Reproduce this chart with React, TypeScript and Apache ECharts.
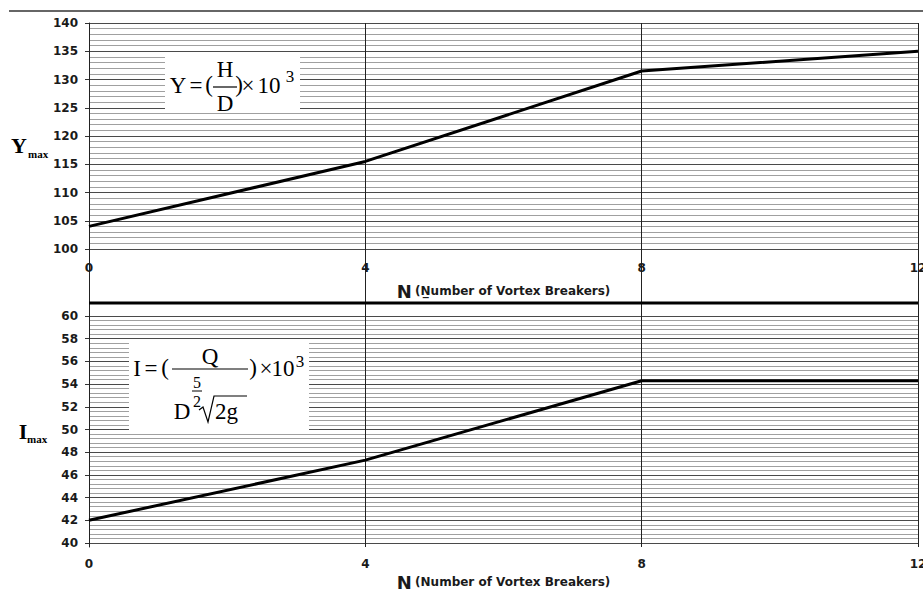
import React, { useEffect, useRef } from "react";
import * as echarts from "echarts";

// ---- data ----
const nValues = [0, 4, 8, 12];
const yMaxValues = [104, 115.5, 131.5, 135];
const iMaxValues = [42, 47.3, 54.3, 54.3];

const xMin = 0;
const xMax = 12;
const xInterval = 4;
const yTopMin = 100;
const yTopMax = 140;
const yTopInterval = 5;
const yBotMin = 40;
const yBotMax = 60;
const yBotInterval = 2;

const xTitleRich = "{n|N} {p|(}{u|N\u0332}{p|umber of Vortex Breakers)}";
const xTitlePlain = "{n|N} {p|(Number of Vortex Breakers)}";

const SERIF = "'Liberation Serif', 'Times New Roman', serif";
const SANS = "'DejaVu Sans', sans-serif";

function serifText(x: number, y: number, text: string, size: number, align = "center", weight = "normal") {
  return {
    type: "text",
    x,
    y,
    style: {
      text,
      fontFamily: SERIF,
      fontSize: size,
      fontWeight: weight,
      fill: "#000",
      align,
      verticalAlign: "middle",
    },
    z: 20,
  };
}

function hline(x1: number, x2: number, y: number, w: number, color = "#000") {
  return {
    type: "line",
    shape: { x1, y1: y, x2, y2: y },
    style: { stroke: color, lineWidth: w },
    z: 20,
  };
}

export default function App() {
  const ref = useRef<HTMLDivElement>(null);

  useEffect(() => {
    if (!ref.current) return;
    const chart = echarts.init(ref.current, null, { renderer: "svg" });

    const labelStyle = {
      fontFamily: SANS,
      fontWeight: "bold",
      fontSize: 12,
      color: "#1a1a1a",
    };
    const nameRich = {
      n: { fontFamily: SANS, fontWeight: "bold", fontSize: 18, color: "#1a1a1a" },
      p: { fontFamily: SANS, fontWeight: "bold", fontSize: 12, color: "#1a1a1a" },
      u: { fontFamily: SANS, fontWeight: "bold", fontSize: 12, color: "#1a1a1a" },
    };

    const valueY = (min: number, max: number, interval: number, gridIndex: number) => ({
      type: "value",
      gridIndex,
      min,
      max,
      interval,
      axisLine: { show: false },
      axisTick: { show: true, length: 4, lineStyle: { color: "#333" } },
      axisLabel: { ...labelStyle, margin: 11 },
      splitLine: { show: true, lineStyle: { color: "#4a4a4a", width: 1 } },
      minorTick: { show: false, splitNumber: 5 },
      minorSplitLine: { show: true, lineStyle: { color: "#a0a0a0", width: 1 } },
    });

    const valueX = (gridIndex: number, margin: number, name: string, nameGap: number) => ({
      type: "value",
      gridIndex,
      min: xMin,
      max: xMax,
      interval: xInterval,
      axisLine: { show: false },
      axisTick: { show: false },
      axisLabel: { ...labelStyle, margin, alignMaxLabel: "center", alignMinLabel: "center" },
      splitLine: { show: false },
      name,
      nameLocation: "middle",
      nameGap,
      nameTextStyle: { rich: nameRich },
    });

    const option: any = {
      animation: false,
      backgroundColor: "#fff",
      grid: [
        { left: 89, top: 23, width: 829, height: 226, outerBoundsMode: "none" },
        { left: 89, top: 316, width: 829, height: 227, outerBoundsMode: "none" },
        { left: 89, top: 23, width: 829, height: 524, outerBoundsMode: "none" },
      ],
      xAxis: [
        valueX(0, 13, xTitleRich, 33),
        valueX(1, 15, xTitlePlain, 30),
        {
          type: "value",
          gridIndex: 2,
          min: xMin,
          max: xMax,
          interval: xInterval,
          axisLine: { show: false },
          axisTick: { show: false },
          axisLabel: { show: false },
          splitLine: { show: true, lineStyle: { color: "#222", width: 1 } },
        },
      ],
      yAxis: [
        valueY(yTopMin, yTopMax, yTopInterval, 0),
        valueY(yBotMin, yBotMax, yBotInterval, 1),
        {
          type: "value",
          gridIndex: 2,
          min: 0,
          max: 1,
          axisLine: { show: true, lineStyle: { color: "#222", width: 1 } },
          axisTick: { show: false },
          axisLabel: { show: false },
          splitLine: { show: false },
        },
      ],
      series: [
        {
          type: "line",
          xAxisIndex: 0,
          yAxisIndex: 0,
          data: nValues.map((n, i) => [n, yMaxValues[i]]),
          symbol: "none",
          lineStyle: { color: "#000", width: 3 },
          z: 10,
        },
        {
          type: "line",
          xAxisIndex: 1,
          yAxisIndex: 1,
          data: nValues.map((n, i) => [n, iMaxValues[i]]),
          symbol: "none",
          lineStyle: { color: "#000", width: 3 },
          z: 10,
        },
      ],
      graphic: [
        // top border and separator
        hline(9, 923, 11, 1.5, "#333"),
        hline(89, 918, 303, 3, "#000"),
        // Y_max label
        serifText(19, 145, "Y", 22, "center", "bold"),
        serifText(28, 154, "max", 11, "left", "bold"),
        // I_max label
        serifText(23, 431, "I", 22, "center", "bold"),
        serifText(27, 439, "max", 11, "left", "bold"),
        // top formula box
        {
          type: "rect",
          shape: { x: 165, y: 55, width: 135, height: 58 },
          style: { fill: "#fff" },
          z: 15,
        },
        serifText(178, 85, "Y", 23),
        serifText(196, 85, "=", 23),
        serifText(209, 84, "(", 23),
        serifText(225, 69, "H", 23),
        hline(213, 237, 87, 1.2),
        serifText(225, 103, "D", 23),
        serifText(239, 84, ")", 23),
        serifText(248, 85, "×", 23),
        serifText(269, 85, "10", 23),
        serifText(290, 76, "3", 17),
        // bottom formula box
        {
          type: "rect",
          shape: { x: 129, y: 339, width: 180, height: 94 },
          style: { fill: "#fff" },
          z: 15,
        },
        serifText(137, 368, "I", 23),
        serifText(151, 368, "=", 23),
        serifText(165, 367, "(", 23),
        serifText(210, 356, "Q", 23),
        hline(172, 248, 369, 1.2),
        serifText(197, 382, "5", 16),
        hline(192, 202, 391, 1),
        serifText(197, 401, "2", 16),
        serifText(182, 411, "D", 23),
        {
          type: "polyline",
          shape: { points: [[199, 410], [203, 407], [208, 422], [214, 396], [247, 396]] },
          style: { stroke: "#000", lineWidth: 1.2, fill: null },
          z: 20,
        },
        serifText(215, 411, "2g", 23, "left"),
        serifText(253, 367, ")", 23),
        serifText(266, 368, "×", 23),
        serifText(283, 368, "10", 23),
        serifText(300, 361, "3", 17),
      ],
    };

    chart.setOption(option);
    return () => chart.dispose();
  }, []);

  return (
    <div
      ref={ref}
      style={{ position: "absolute", left: 0, top: 0, width: 923, height: 590 }}
    />
  );
}
